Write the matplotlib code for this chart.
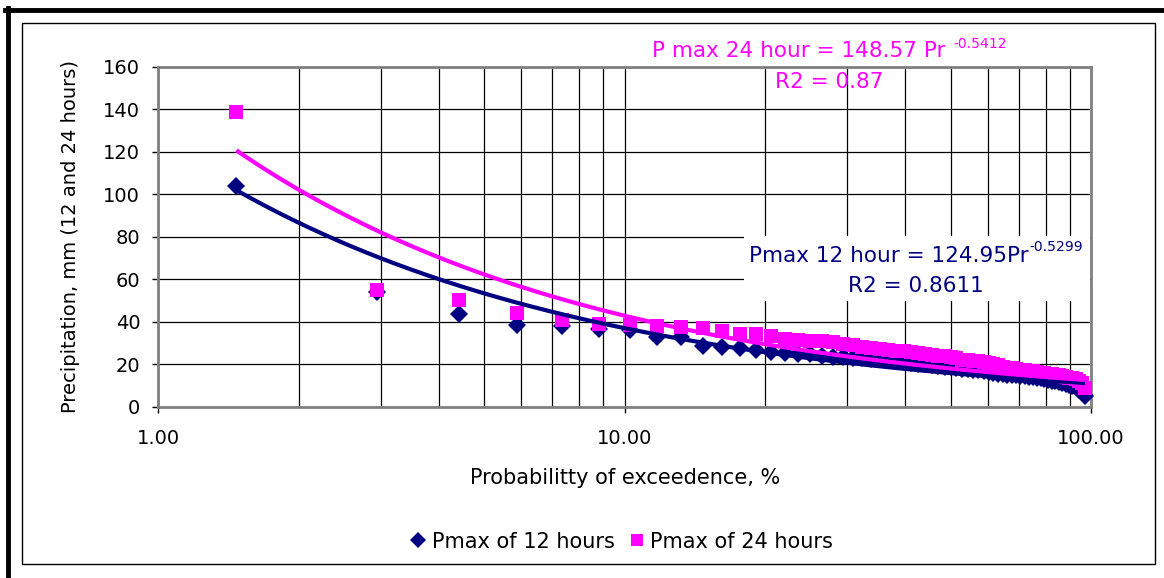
import numpy as np
import matplotlib
matplotlib.use('Agg')
import matplotlib.pyplot as plt
from matplotlib.ticker import LogLocator, FuncFormatter, NullFormatter
from matplotlib.lines import Line2D
from matplotlib.patches import Rectangle

# ---------------- data ----------------
prob_exceed = [1.47, 2.94, 4.41, 5.88, 7.35, 8.82, 10.29, 11.76, 13.24, 14.71,
               16.18, 17.65, 19.12, 20.59, 22.06, 23.53, 25.00, 26.47, 27.94, 29.41,
               30.88, 32.35, 33.82, 35.29, 36.76, 38.24, 39.71, 41.18, 42.65, 44.12,
               45.59, 47.06, 48.53, 50.00, 51.47, 52.94, 54.41, 55.88, 57.35, 58.82,
               60.29, 61.76, 63.24, 64.71, 66.18, 67.65, 69.12, 70.59, 72.06, 73.53,
               75.00, 76.47, 77.94, 79.41, 80.88, 82.35, 83.82, 85.29, 86.76, 88.24,
               89.71, 91.18, 92.65, 94.12, 95.59, 97.06]

pmax_12h = [104.0, 54.0, 43.5, 38.5, 38.0, 36.5, 36.0, 32.5, 32.5, 28.5,
            28.0, 27.5, 26.5, 25.5, 25.0, 24.5, 24.5, 24.0, 23.5, 23.5,
            23.0, 22.8, 22.5, 22.3, 22.0, 21.5, 21.0, 20.5, 20.2, 19.8,
            19.5, 19.0, 18.7, 18.4, 18.1, 17.8, 17.5, 17.3, 17.0, 16.7,
            16.3, 15.9, 15.4, 15.2, 15.0, 14.8, 14.6, 14.4, 14.2, 14.0,
            13.8, 13.5, 13.3, 13.0, 12.7, 12.2, 12.0, 11.5, 11.0, 10.5,
            10.0, 9.5, 9.0, 8.0, 7.0, 5.0]

pmax_24h = [138.5, 55.0, 50.0, 44.0, 40.5, 39.0, 38.5, 38.0, 37.5, 37.0,
            35.5, 34.0, 34.0, 33.3, 32.0, 31.5, 31.0, 30.8, 30.5, 29.5,
            29.0, 28.0, 27.5, 27.0, 26.7, 26.3, 26.0, 25.6, 25.2, 24.8,
            24.4, 24.0, 23.6, 23.2, 23.0, 22.0, 21.8, 21.5, 21.2, 21.0,
            20.5, 20.2, 19.5, 18.8, 18.3, 18.0, 17.7, 17.4, 17.1, 16.8,
            16.6, 16.3, 16.0, 15.8, 15.5, 15.3, 15.0, 14.7, 14.4, 14.0,
            13.6, 13.2, 12.8, 12.2, 11.0, 8.5]

# power trendlines as shown on the chart: P = a * Pr^b
fit_12h = (124.95, -0.5299)
fit_24h = (148.57, -0.5412)
r2_12h = "0.8611"
r2_24h = "0.87"

x_ticks = [1, 10, 100]
y_ticks = [0, 20, 40, 60, 80, 100, 120, 140, 160]

legend_labels = ["Pmax of 12 hours", "Pmax of 24 hours"]
x_label = "Probabilitty of exceedence, %"
y_label = "Precipitation, mm (12 and 24 hours)"

NAVY = '#000080'
MAGENTA = '#FF00FF'

# ---------------- figure ----------------
W, H = 1164, 578
plt.rcParams['font.family'] = ['DejaVu Sans']
fig = plt.figure(figsize=(W / 100, H / 100), dpi=100)
fig.patch.set_facecolor('white')


def fx(x):
    return x / W


def fy(y):
    return 1 - y / H


ax_l, ax_r, ax_t, ax_b = 158.3, 1091.0, 66.7, 406.5
ax = fig.add_axes([fx(ax_l), fy(ax_b), fx(ax_r) - fx(ax_l), (ax_b - ax_t) / H])
ax.set_facecolor('white')

ax.set_xscale('log')
ax.set_xlim(1, 100)
ax.set_ylim(0, 160)

ax.xaxis.set_minor_locator(LogLocator(base=10, subs=np.arange(2, 10), numticks=20))
ax.xaxis.set_major_formatter(FuncFormatter(lambda v, p: f"{v:.2f}"))
ax.xaxis.set_minor_formatter(NullFormatter())
ax.set_xticks(x_ticks)
ax.set_yticks(y_ticks)

ax.grid(True, which='both', axis='x', color='black', lw=0.9)
ax.grid(True, which='major', axis='y', color='black', lw=0.9)
ax.set_axisbelow(True)

for s in ax.spines.values():
    s.set_color('#808080')
    s.set_linewidth(2.0)

ax.tick_params(axis='both', which='major', direction='out', length=4, width=1,
               color='black', labelsize=14, labelcolor='black')
ax.tick_params(axis='x', which='major', pad=12)
ax.tick_params(axis='y', which='major', pad=9)
ax.tick_params(axis='x', which='minor', length=0)

# scatter series
ax.plot(prob_exceed, pmax_12h, ls='none', marker='D', ms=9.0, mew=0,
        color=NAVY, zorder=3, clip_on=False)
ax.plot(prob_exceed, pmax_24h, ls='none', marker='s', ms=10.2, mew=0,
        color=MAGENTA, zorder=4, clip_on=False)

# trendlines
xs = np.geomspace(min(prob_exceed), max(prob_exceed), 300)
ax.plot(xs, fit_12h[0] * xs ** fit_12h[1], color=NAVY, lw=3.0, zorder=5,
        solid_capstyle='butt')
ax.plot(xs, fit_24h[0] * xs ** fit_24h[1], color=MAGENTA, lw=3.0, zorder=6,
        solid_capstyle='butt')

ax.set_xlabel(x_label, fontsize=15)
ax.xaxis.set_label_coords(0.5, (ax_b - 468) / (ax_b - ax_t))
ax.set_ylabel(y_label, fontsize=14)
ax.yaxis.set_label_coords((80 - ax_l) / (ax_r - ax_l), 0.5)

# frame of the chart area (screenshot border)
fig.add_artist(Line2D([fx(5), fx(W)], [fy(10), fy(10)], color='black', lw=3.5,
                      transform=fig.transFigure))
fig.add_artist(Line2D([fx(7.5), fx(7.5)], [fy(8), fy(H)], color='black', lw=3.5,
                      transform=fig.transFigure))
fig.add_artist(Rectangle((fx(22), fy(564)), fx(1155) - fx(22), (564 - 23) / H,
                         fill=False, edgecolor='black', lw=1.0,
                         transform=fig.transFigure))

# white box behind the 12-hour equation
fig.add_artist(Rectangle((fx(744), fy(301)), fx(1090) - fx(744), (301 - 236) / H,
                         facecolor='white', edgecolor='none',
                         transform=fig.transFigure, zorder=1.5))

fig.canvas.draw()
renderer = fig.canvas.get_renderer()


def equation(left_x, base_y, sup_base_y, r2_base_y, main, sup, r2, color, size, gap):
    t1 = fig.text(fx(left_x), fy(base_y), main, color=color, fontsize=size,
                  ha='left', va='baseline', zorder=3)
    bb = t1.get_window_extent(renderer)
    t2 = fig.text((bb.x1 + gap) / W, fy(sup_base_y), sup, color=color,
                  fontsize=size * 0.65, ha='left', va='baseline', zorder=3)
    bb2 = t2.get_window_extent(renderer)
    center = (bb.x0 + bb2.x1) / 2
    fig.text(center / W, fy(r2_base_y), r2, color=color, fontsize=size,
             ha='center', va='baseline', zorder=3)


equation(651.7, 57.3, 47.5, 88.3,
         f"P max 24 hour = {fit_24h[0]:.2f} Pr ", f"{fit_24h[1]:.4f}",
         f"R2 = {r2_24h}", MAGENTA, 15.5, 1)
equation(749.0, 261.7, 251.0, 291.7,
         f"Pmax 12 hour = {fit_12h[0]:.2f}Pr", f"{fit_12h[1]:.4f}",
         f"R2 = {r2_12h}", NAVY, 15.5, 1)

# legend
handles = [Line2D([], [], ls='none', marker='D', ms=8.5, mew=0, color=NAVY),
           Line2D([], [], ls='none', marker='s', ms=8.5, mew=0, color=MAGENTA)]
fig.legend(handles, legend_labels, loc='center', ncol=2,
           bbox_to_anchor=(fx(621), fy(541.7)), frameon=False, fontsize=15,
           handlelength=0.9, handletextpad=0.2, columnspacing=0.6,
           borderpad=0)

fig.savefig('out.png', dpi=100)
